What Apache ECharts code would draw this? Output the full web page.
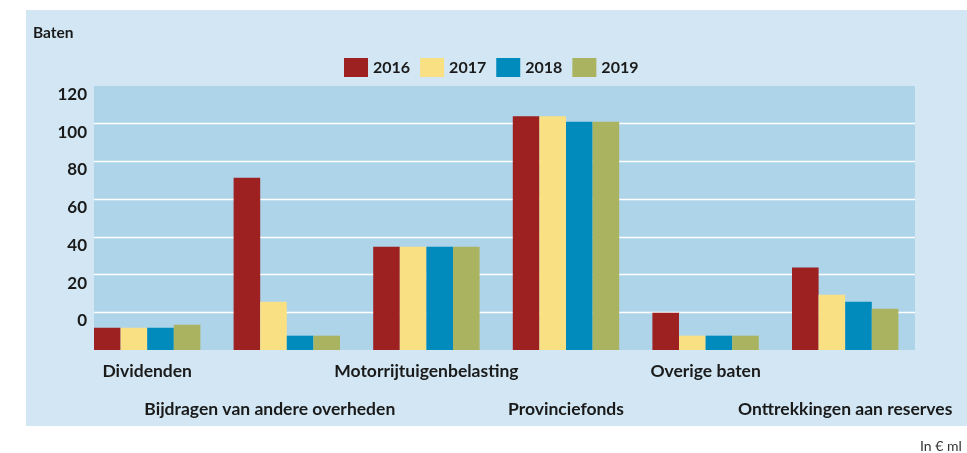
<!DOCTYPE html>
<html>
<head>
<meta charset="utf-8">
<script src="https://cdn.jsdelivr.net/npm/echarts@6/dist/echarts.min.js"></script>
<style>
  html, body { margin: 0; padding: 0; background: #ffffff; }
  #panel {
    position: absolute;
    left: 26px;
    top: 10px;
    width: 941px;
    height: 416px;
    background: #d2e7f3;
  }
  #chart {
    position: absolute;
    left: 0;
    top: 0;
    width: 967px;
    height: 453px;
  }
</style>
</head>
<body>
<div id="panel"></div>
<div id="chart"></div>
<script>
// categorieën en jaren
const categories = [
  "Dividenden",
  "Bijdragen van andere overheden",
  "Motorrijtuigenbelasting",
  "Provinciefonds",
  "Overige baten",
  "Onttrekkingen aan reserves",
];
const years = ["2016", "2017", "2018", "2019"];

// bedragen per jaar (hoogte vanaf de onderkant van de as)
const values2016 = [11.8, 91.4, 54.8, 123.9, 19.8, 43.7];
const values2017 = [11.8, 25.6, 54.8, 123.9, 7.6, 29.3];
const values2018 = [11.8, 7.6, 54.8, 121.1, 7.6, 25.6];
const values2019 = [13.4, 7.6, 54.8, 121.1, 7.6, 21.9];

// labels van de y-as, per stap van 20 (onderste lijn zonder label)
const tickLabels = ["", "0", "20", "40", "60", "80", "100", "120"];

const colorList = ["#9c2120", "#f9e082", "#008bbc", "#aab35f"];
const seriesValues = [values2016, values2017, values2018, values2019];

const font = "Lato, 'Open Sans', sans-serif";
const labelStyle = {
  color: "#1a1a1a",
  fontSize: 17.5,
  fontWeight: "bold",
  fontFamily: font,
  lineHeight: 38,
};

let myChart = echarts.init(document.getElementById("chart"));
myChart.setOption({
  backgroundColor: "transparent",
  textStyle: { fontFamily: font },
  title: [
    {
      text: "Baten",
      left: 28,
      top: 20,
      textStyle: { fontSize: 15.5, fontWeight: "bold", color: "#1a1a1a", fontFamily: font },
    },
    {
      text: "In € ml",
      left: 915,
      top: 434,
      textStyle: { fontSize: 14, fontWeight: "normal", color: "#333333", fontFamily: font },
    },
  ],
  legend: {
    left: 344,
    top: 58,
    padding: 0,
    itemWidth: 24,
    itemHeight: 19,
    itemGap: 10,
    icon: "rect",
    data: years,
    textStyle: { fontSize: 16, fontWeight: "bold", color: "#1a1a1a", fontFamily: font },
  },
  grid: [
    // achtergrond met rasterlijnen
    { left: 94, right: 52, top: 86, height: 264, show: true, backgroundColor: "#aed4ea", borderWidth: 0 },
    // staven
    { left: 77.4, right: 52, top: 86, height: 264 },
  ],
  xAxis: [
    { gridIndex: 0, type: "value", min: 0, max: 1, show: false },
    {
      gridIndex: 1,
      type: "category",
      data: categories,
      axisLine: { show: false },
      axisTick: { show: false },
      axisLabel: {
        interval: 0,
        margin: 2,
        ...labelStyle,
        formatter: (value, index) => {
          if (index === 1) return "\n{shift|" + value + "}";
          return index % 2 === 1 ? "\n" + value : value;
        },
        rich: {
          shift: { ...labelStyle, padding: [0, 34, 0, 0] },
        },
      },
    },
  ],
  yAxis: [
    {
      gridIndex: 0,
      type: "value",
      min: 0,
      max: 140,
      interval: 20,
      axisLine: { show: false },
      axisTick: { show: false },
      axisLabel: {
        margin: 7,
        color: "#1a1a1a",
        fontSize: 17,
        fontWeight: "bold",
        fontFamily: font,
        verticalAlign: "top",
        formatter: (value) => tickLabels[Math.round(value / 20)] || "",
      },
      splitLine: {
        showMinLine: false,
        showMaxLine: false,
        lineStyle: { color: "#ffffff", width: 1.4 },
      },
    },
    { gridIndex: 1, type: "value", min: 0, max: 140, interval: 20, show: false, splitLine: { show: false } },
  ],
  series: seriesValues.map((data, index) => ({
    type: "bar",
    name: years[index],
    xAxisIndex: 1,
    yAxisIndex: 1,
    data: data,
    barWidth: 26.6,
    barGap: "0%",
    itemStyle: { color: colorList[index] },
    emphasis: { disabled: true },
  })),
  animation: false,
});
</script>
</body>
</html>
